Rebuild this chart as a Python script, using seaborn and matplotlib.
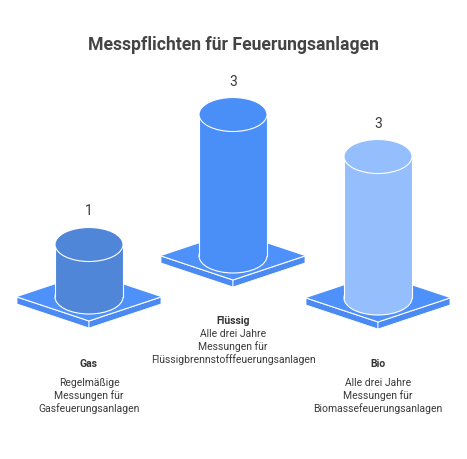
import matplotlib
matplotlib.use("Agg")
import matplotlib.pyplot as plt
from matplotlib.patches import Polygon, Ellipse, Rectangle
import seaborn as sns

categories = ["Gas", "Flüssig", "Bio"]
values = [1, 3, 3]
descriptions = [
    "Regelmäßige\nMessungen für\nGasfeuerungsanlagen",
    "Alle drei Jahre\nMessungen für\nFlüssigbrennstofffeuerungsanlagen",
    "Alle drei Jahre\nMessungen für\nBiomassefeuerungsanlagen",
]
title = "Messpflichten für Feuerungsanlagen"

sns.set_theme(style="white")
plt.rcParams["font.family"] = ["Roboto", "DejaVu Sans"]

cyl_colors = ["#5086d8", "#4a8ef8", "#95befc"]
plat_top = "#4f91fb"
plat_side = "#4a8af2"
text_col = "#3a3a3a"

# layout in pixel space (y down)
centers = [(89, 298), (233, 257), (378, 299)]
hw, hh, thick = 72, 24, 7
r, ry = 34, 17
label_y = [364, 321, 364]
desc_y = [378, 329, 378]


def col_height(v):
    return 8 + 44.5 * v


fig = plt.figure(figsize=(4.67, 4.60), dpi=100)
ax = fig.add_axes([0, 0, 1, 1])
ax.set_xlim(0, 467)
ax.set_ylim(460, 0)
ax.axis("off")

ax.text(233, 45, title, ha="center", va="center", fontsize=12.7,
        fontweight="bold", color="#444444")

for i, (cat, v) in enumerate(zip(categories, values)):
    cx, cy = centers[i]
    # platform
    left = [(cx - hw, cy), (cx, cy + hh), (cx, cy + hh + thick), (cx - hw, cy + thick)]
    right = [(cx, cy + hh), (cx + hw, cy), (cx + hw, cy + thick), (cx, cy + hh + thick)]
    top = [(cx - hw, cy), (cx, cy - hh), (cx + hw, cy), (cx, cy + hh)]
    for pts in (left, right):
        ax.add_patch(Polygon(pts, closed=True, fc=plat_side, ec="white", lw=0.6, zorder=2))
    ax.add_patch(Polygon(top, closed=True, fc=plat_top, ec="none", zorder=3))
    ax.plot([cx - hw, cx, cx + hw], [cy, cy + hh, cy], color="white", lw=0.8, zorder=3.5)

    # cylinder
    h = col_height(v)
    ty = cy - h
    c = cyl_colors[i]
    ax.add_patch(Ellipse((cx, cy), 2 * r, 2 * ry, fc=c, ec="white", lw=0.8, zorder=4))
    ax.add_patch(Rectangle((cx - r, ty), 2 * r, h, fc=c, ec="none", zorder=5))
    ax.plot([cx - r, cx - r], [ty, cy], color="white", lw=0.8, zorder=6)
    ax.plot([cx + r, cx + r], [ty, cy], color="white", lw=0.8, zorder=6)
    ax.add_patch(Ellipse((cx, ty), 2 * r, 2 * ry, fc=c, ec="white", lw=0.8, zorder=7))

    ax.text(cx, ty - ry - 17, str(v), ha="center", va="center", fontsize=10,
            color=text_col)
    ax.text(cx, label_y[i], cat, ha="center", va="center", fontsize=7.5,
            fontweight="bold", color="#333333")
    ax.text(cx, desc_y[i], descriptions[i], ha="center", va="top", fontsize=7.5,
            color=text_col, linespacing=1.25)

fig.savefig("out.png", dpi=100, facecolor="white")
